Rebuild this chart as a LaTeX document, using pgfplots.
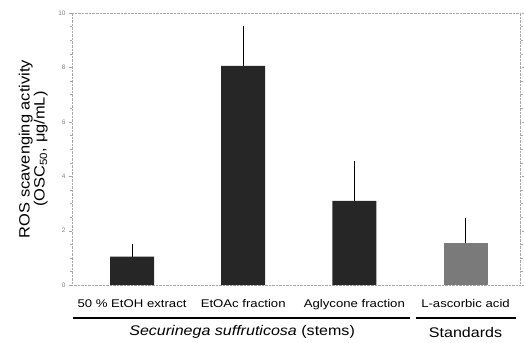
\documentclass[border=0pt]{standalone}
\usepackage{pgfplots}
\pgfplotsset{compat=1.18}
\usepackage{fontspec}
\setmainfont{Liberation Sans}
\newcommand{\xl}[1]{\scalebox{1.18}[1]{#1}}
\begin{document}
\begin{tikzpicture}
\useasboundingbox (-72bp,-58bp) rectangle (452bp,285bp);
\begin{axis}[
  at={(0,0)}, anchor=south west,
  scale only axis, width=448bp, height=272bp,
  xmin=-0.54, xmax=3.49, ymin=0, ymax=10,
  clip=false,
  axis line style={gray!70, densely dotted},
  xtick={0,1,2,3},
  xticklabels={\xl{50 \% EtOH extract}, \xl{EtOAc fraction}, \xl{Aglycone fraction}, \xl{L-ascorbic acid}},
  xticklabel style={font=\fontsize{11.2}{13}\selectfont, yshift=-8bp},
  x tick style={draw=none},
  ytick={0,2,4,6,8,10},
  yticklabel style={font=\fontsize{6.5}{7}\selectfont, text=gray},
  minor y tick num=3,
  tick align=outside,
  y tick style={gray!70, densely dotted},
  major tick length=3bp, minor tick length=2bp,
  ylabel={\scalebox{1.1}[1]{\begin{tabular}{@{}c@{}}ROS scavenging activity\\[-1bp](OSC\textsubscript{50}, μg/mL)\end{tabular}}},
  ylabel style={font=\fontsize{15}{16}\selectfont, yshift=2bp},
  /pgf/number format/assume math mode=true,
]
\addplot[ybar, bar width=44bp, fill=black!85, draw=none,
  error bars/.cd, y dir=plus, y explicit, error bar style={black, line width=0.8pt}, error mark options={black, mark size=2bp, line width=0.6pt}]
  coordinates {(0,1.04) +- (0,0.40) (1,8.06) +- (0,1.40) (2,3.09) +- (0,1.40)};
\addplot[ybar, bar width=44bp, fill=black!52, draw=none,
  error bars/.cd, y dir=plus, y explicit, error bar style={black, line width=0.8pt}, error mark options={black, mark size=2bp, line width=0.6pt}]
  coordinates {(3,1.53) +- (0,0.86)};
\draw[line width=1.6pt] (axis cs:-0.53,-1.21) -- (axis cs:2.50,-1.21);
\draw[line width=1.6pt] (axis cs:2.55,-1.21) -- (axis cs:3.45,-1.21);
\node[font=\fontsize{14}{16}\selectfont] at (axis cs:0.99,-1.73) {\scalebox{1.15}[1]{\textit{Securinega suffruticosa} (stems)}};
\node[font=\fontsize{14}{16}\selectfont] at (axis cs:3.0,-1.73) {\scalebox{1.15}[1]{Standards}};
\end{axis}
\end{tikzpicture}
\end{document}
